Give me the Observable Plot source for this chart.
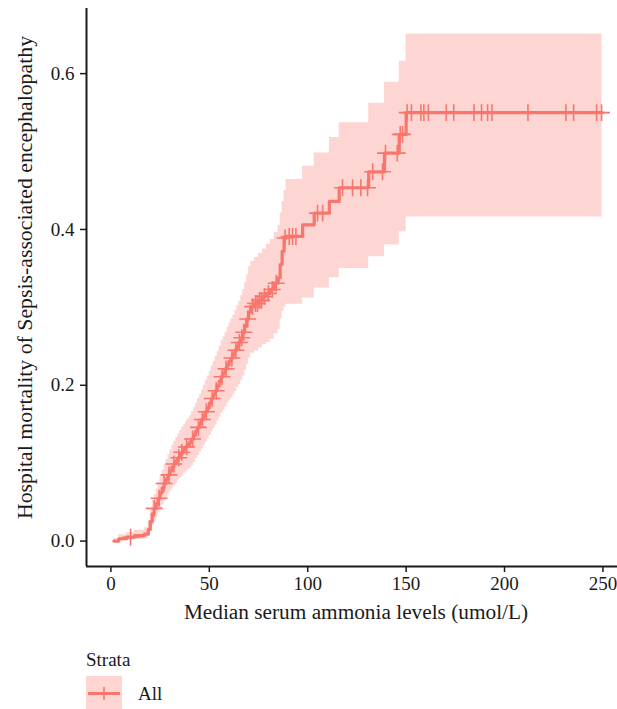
<!DOCTYPE html>
<html><head><meta charset="utf-8">
<script src="https://cdn.jsdelivr.net/npm/d3@7"></script>
<script src="https://cdn.jsdelivr.net/npm/@observablehq/plot@0.6"></script>
<style>
body{margin:0;background:#fff;font-family:"Liberation Serif",serif;color:#1a1a1a;}
#legend{position:relative;height:69px;width:617px;}
#legend .t{position:absolute;font-size:19px;line-height:22px;}
</style></head><body>
<div id="chart"></div>
<div id="legend">
  <div class="t" style="left:86px;top:9px;">Strata</div>
  <svg id="key" style="position:absolute;left:86px;top:36px" width="36" height="35"></svg>
  <div class="t" style="left:138px;top:43px;">All</div>
</div>
<script>
// step times (umol/L)
const time = [1.5, 4, 8, 12, 17, 19,
  20, 21, 22, 23, 24, 25, 26, 27, 28, 29, 30, 31, 32, 33, 34, 35, 36, 37, 38, 39, 40,
  41, 42, 43, 44, 45, 46, 47, 48, 49, 50, 51, 52, 53, 54, 55, 56, 57, 58, 59, 60,
  61, 62, 63, 64, 65, 66, 67, 68, 69, 70, 71,
  73, 75, 77, 79, 81, 83, 85,
  86, 87, 88, 89,
  97.4, 103.3, 111, 116, 131, 139, 146.5, 150, 249.5];
// cumulative hospital mortality
const est = [0, 0.003, 0.005, 0.007, 0.009, 0.015,
  0.025, 0.035, 0.042, 0.048, 0.055, 0.062, 0.068, 0.074, 0.080, 0.085, 0.090, 0.095, 0.099, 0.103, 0.107, 0.111, 0.114, 0.118, 0.121, 0.124, 0.127,
  0.131, 0.136, 0.141, 0.146, 0.151, 0.156, 0.161, 0.166, 0.171, 0.177, 0.183, 0.188, 0.193, 0.199, 0.205, 0.211, 0.216, 0.221, 0.226, 0.231,
  0.235, 0.240, 0.245, 0.250, 0.255, 0.261, 0.268, 0.276, 0.285, 0.294, 0.301,
  0.305, 0.309, 0.314, 0.318, 0.323, 0.331, 0.338,
  0.355, 0.372, 0.389, 0.391,
  0.406, 0.421, 0.436, 0.4535, 0.474, 0.498, 0.522, 0.550, 0.550];
const upper = [0.003, 0.008, 0.011, 0.014, 0.017, 0.026,
  0.040, 0.052, 0.060, 0.067, 0.075, 0.084, 0.091, 0.098, 0.105, 0.111, 0.117, 0.123, 0.128, 0.133, 0.137, 0.142, 0.146, 0.150, 0.154, 0.157, 0.161,
  0.166, 0.171, 0.177, 0.183, 0.188, 0.194, 0.200, 0.206, 0.212, 0.218, 0.225, 0.231, 0.237, 0.243, 0.250, 0.257, 0.262, 0.268, 0.274, 0.280,
  0.285, 0.290, 0.296, 0.302, 0.308, 0.315, 0.323, 0.332, 0.342, 0.352, 0.359,
  0.364, 0.369, 0.375, 0.381, 0.387, 0.396, 0.405,
  0.421, 0.436, 0.450, 0.464,
  0.481, 0.498, 0.518, 0.537, 0.562, 0.589, 0.616, 0.651, 0.651];
const lower = [0, 0, 0.001, 0.002, 0.003, 0.006,
  0.013, 0.020, 0.025, 0.030, 0.036, 0.041, 0.046, 0.051, 0.056, 0.060, 0.064, 0.068, 0.071, 0.074, 0.078, 0.081, 0.083, 0.087, 0.089, 0.092, 0.094,
  0.097, 0.101, 0.106, 0.110, 0.114, 0.118, 0.123, 0.127, 0.131, 0.136, 0.141, 0.145, 0.149, 0.154, 0.159, 0.164, 0.168, 0.172, 0.177, 0.181,
  0.184, 0.188, 0.192, 0.197, 0.201, 0.206, 0.212, 0.219, 0.227, 0.235, 0.241,
  0.244, 0.248, 0.252, 0.255, 0.259, 0.266, 0.272,
  0.285, 0.295, 0.300, 0.304,
  0.312, 0.325, 0.338, 0.350, 0.365, 0.380, 0.397, 0.416, 0.416];
// censoring times
const censorTimes = [10, 22, 24.5, 27, 29.5, 32, 34.5, 36, 38.5, 41.5, 44.5, 46.5, 48.5, 51.5, 53.5, 56.5, 58.5,
  61.5, 63.5, 65.3, 66.5, 67.5, 69.5, 72, 73.5, 74.5, 75.5, 76.5, 78, 80, 82, 84, 88.5, 90.6, 92.3, 94,
  105, 107.6, 117.7, 122.8, 127, 130.4, 133, 138, 139.5, 145.5, 147, 148.2, 150.5, 152.7, 157.5, 159, 161.3,
  170.4, 174.2, 184.5, 188.3, 191.4, 193.6, 211.9, 231.2, 235.1, 246.8, 249.3];
const xTicks = [0, 50, 100, 150, 200, 250];
const yTicks = [0, 0.2, 0.4, 0.6];
const xTitle = "Median serum ammonia levels (umol/L)";
const yTitle = "Hospital mortality of Sepsis-associated encephalopathy";
const color = "#F8766D";

const rows = time.map((t, i) => ({t, est: est[i], lo: lower[i], hi: upper[i]}));
const censors = censorTimes.map(t => ({t, est: est[Math.max(0, d3.bisectRight(time, t) - 1)]}));

const xDom = [-12.4, 257.4], yDom = [-0.0326, 0.6836];
const ink = "#1a1a1a";
const plot = Plot.plot({
  width: 617, height: 640,
  marginLeft: 86, marginRight: 0, marginTop: 8, marginBottom: 74,
  style: {fontFamily: "Liberation Serif, serif", fontSize: "19px", color: ink, background: "#fff"},
  x: {domain: xDom, label: null},
  y: {domain: yDom, label: null},
  marks: [
    Plot.areaY(rows, {x: "t", y1: "lo", y2: "hi", curve: "step-after", fill: color, fillOpacity: 0.3}),
    Plot.line(rows, {x: "t", y: "est", curve: "step-after", stroke: color, strokeWidth: 3.2}),
    Plot.dot(censors, {x: "t", y: "est", symbol: "plus", r: 5.5, stroke: color, strokeWidth: 1.6}),
    Plot.axisX({ticks: xTicks, tickSize: 6, tickPadding: 4, tickFormat: d => String(d), stroke: ink, strokeWidth: 1.5, fontSize: 19, label: null}),
    Plot.axisY({ticks: yTicks, tickSize: 6, tickPadding: 6, tickFormat: d3.format(".1f"), stroke: ink, strokeWidth: 1.5, fontSize: 19, label: null}),
    Plot.ruleX([xDom[0]], {stroke: ink, strokeWidth: 2}),
    Plot.ruleY([yDom[0]], {stroke: ink, strokeWidth: 2}),
    Plot.text([xTitle], {frameAnchor: "bottom", dy: 52, dx: 4, fontSize: 21.3, fill: ink}),
    Plot.text([yTitle], {frameAnchor: "left", textAnchor: "middle", dx: -61, dy: -10, rotate: -90, fontSize: 21.8, fill: ink})
  ]
});
document.getElementById("chart").appendChild(plot);

const key = d3.select("#key");
key.append("rect").attr("width", 36).attr("height", 35).attr("fill", color).attr("fill-opacity", 0.3);
key.append("line").attr("x1", 2).attr("x2", 34).attr("y1", 17.5).attr("y2", 17.5).attr("stroke", color).attr("stroke-width", 3);
key.append("line").attr("x1", 18).attr("x2", 18).attr("y1", 11).attr("y2", 24).attr("stroke", color).attr("stroke-width", 1.6);
</script>
</body></html>
